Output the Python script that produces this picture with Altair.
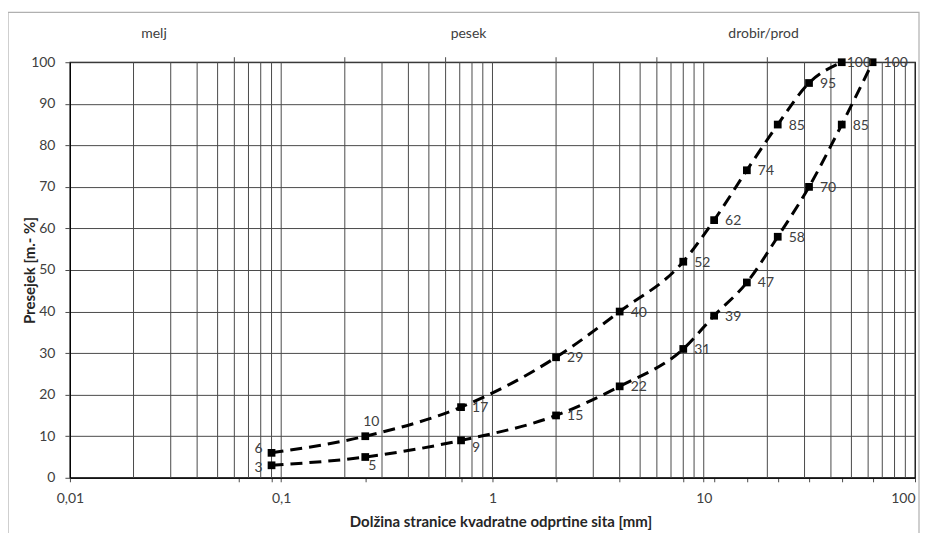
import altair as alt
import pandas as pd

# ---- data ----
sizes_upper = [0.09, 0.25, 0.71, 2, 4, 8, 11.2, 16, 22.4, 31.5, 45]
passing_upper = [6, 10, 17, 29, 40, 52, 62, 74, 85, 95, 100]
sizes_lower = [0.09, 0.25, 0.71, 2, 4, 8, 11.2, 16, 22.4, 31.5, 45, 63]
passing_lower = [3, 5, 9, 15, 22, 31, 39, 47, 58, 70, 85, 100]

x_decades = [0.01, 0.1, 1, 10, 100]
x_decade_labels = ["0,01", "0,1", "1", "10", "100"]
x_sieve_ticks = [0.063, 0.09, 0.25, 0.71, 2, 4, 8, 11.2, 16, 22.4, 31.5, 45, 63]
x_grid = [0.02, 0.03, 0.04, 0.05, 0.06, 0.07, 0.08, 0.09, 0.1,
          0.2, 0.3, 0.4, 0.5, 0.6, 0.7, 0.8, 0.9, 1,
          2, 3, 4, 5, 6, 7, 8, 9, 10,
          20, 30, 40, 50, 60, 70, 80, 90]
top_ticks = [0.06, 0.2, 0.6, 2, 6, 20, 60]
y_ticks = [0, 10, 20, 30, 40, 50, 60, 70, 80, 90, 100]

zone_names = ["melj", "pesek", "drobir/prod"]
zone_x = [0.025, 0.77, 19.2]

x_title = "Dolžina stranice kvadratne odprtine sita [mm]"
y_title = "Presejek [m.- %]"

# ---- tables ----
rows = []
for i, (s, p) in enumerate(zip(sizes_upper, passing_upper)):
    rows.append({"series": "upper", "idx": i, "size": s, "pass": p})
for i, (s, p) in enumerate(zip(sizes_lower, passing_lower)):
    rows.append({"series": "lower", "idx": i, "size": s, "pass": p})
df = pd.DataFrame(rows)


def placement(r):
    if r["idx"] == 0:
        return "left_up" if r["series"] == "upper" else "left_down"
    if r["series"] == "upper" and r["idx"] == 1:
        return "above"
    if r["series"] == "lower" and r["idx"] == 1:
        return "below"
    if r["series"] == "lower" and r["idx"] == 2:
        return "below_right"
    if r["series"] == "upper" and r["idx"] == len(sizes_upper) - 1:
        return "right_near"
    return "right"


df["place"] = df.apply(placement, axis=1)
df["lbl"] = df["pass"].astype(str)

grid_df = pd.DataFrame({"g": x_grid})
top_df = pd.DataFrame({"t": top_ticks})
zone_df = pd.DataFrame({"name": zone_names, "x": zone_x})

# ---- scales / axes ----
W, H = 846, 416
GRID = "#4a4a4a"
xscale = alt.Scale(type="log", domain=[0.01, 100], nice=False)
yscale = alt.Scale(domain=[0, 100], nice=False)

label_expr = ""
for v, l in zip(x_decades, x_decade_labels):
    label_expr += f"datum.value == {v} ? '{l}' : "
label_expr += "''"

x_axis = alt.Axis(values=x_decades + x_sieve_ticks, labelExpr=label_expr, grid=False,
                  tickSize=4, tickColor=GRID, domainColor="black",
                  labelPadding=10, labelOverlap=False, labelFlush=False,
                  labelAlign={"condition": {"test": f"datum.value >= {x_decades[-1]}",
                                            "value": "right"}, "value": "center"},
                  labelFontSize=14, labelColor="#404040",
                  title=x_title, titleFontSize=15, titleFontWeight="bold",
                  titleColor="#262626", titleX=431, titleY=44, titleAnchor="middle",
                  titleBaseline="middle", titleAlign="center")
y_axis = alt.Axis(values=y_ticks, grid=True, gridColor=GRID, gridWidth=1,
                  tickSize=5, tickColor=GRID, domainColor="black",
                  labelPadding=10, labelFontSize=14, labelColor="#404040",
                  title=y_title, titleFontSize=15, titleFontWeight="bold",
                  titleColor="#262626", titleX=-40, titleY=H / 2, titleAngle=-90,
                  titleAlign="center", titleBaseline="middle", titleAnchor="middle")

X = lambda f: alt.X(f, scale=xscale, axis=x_axis)
Y = lambda f: alt.Y(f, scale=yscale, axis=y_axis)

frame = alt.Chart(pd.DataFrame({"a": [0]})).mark_rect(
    fill=None, stroke="#b0b0b0", strokeWidth=1.2
).encode(x=alt.value(-62), x2=alt.value(850), y=alt.value(-50), y2=alt.value(560))

grid = alt.Chart(grid_df).mark_rule(color=GRID, strokeWidth=1).encode(
    x=X("g:Q")
)

top = alt.Chart(top_df).mark_rule(color=GRID, strokeWidth=1).encode(
    x=X("t:Q"), y=alt.value(-5), y2=alt.value(0)
)

base = alt.Chart(df)
lines = base.mark_line(color="black", strokeWidth=3, strokeDash=[12, 7],
                       interpolate="monotone").encode(
    x=X("size:Q"),
    y=Y("pass:Q"),
    detail="series:N",
    order="idx:Q",
)
points = base.mark_point(shape="square", filled=True, size=60, color="black",
                         opacity=1).encode(
    x=X("size:Q"),
    y=Y("pass:Q"),
)

placements = {
    "right": dict(align="left", dx=11, dy=1),
    "right_near": dict(align="left", dx=5, dy=1),
    "left_up": dict(align="right", dx=-9, dy=-4),
    "left_down": dict(align="right", dx=-9, dy=3),
    "above": dict(align="center", dx=6, dy=-14),
    "below": dict(align="left", dx=3, dy=9),
    "below_right": dict(align="left", dx=11, dy=8),
}
text_layers = []
for name, opts in placements.items():
    text_layers.append(
        base.transform_filter(alt.datum.place == name).mark_text(
            baseline="middle", fontSize=14, color="#404040", **opts
        ).encode(
            x=X("size:Q"),
            y=Y("pass:Q"),
            text="lbl:N",
        )
    )

zones = alt.Chart(zone_df).mark_text(fontSize=14, color="#404040", baseline="middle").encode(
    x=X("x:Q"), y=alt.value(-28), text="name:N"
)

chart = alt.layer(frame, grid, top, lines, points, *text_layers, zones).properties(
    width=W, height=H,
    autosize=alt.AutoSizeParams(type="none"),
    padding={"left": 62, "top": 54, "right": 5, "bottom": 55},
).configure(font="Lato").configure_view(stroke="black", strokeWidth=1.3)

chart.save("out.html", embed_options={"renderer": "svg", "actions": False})
